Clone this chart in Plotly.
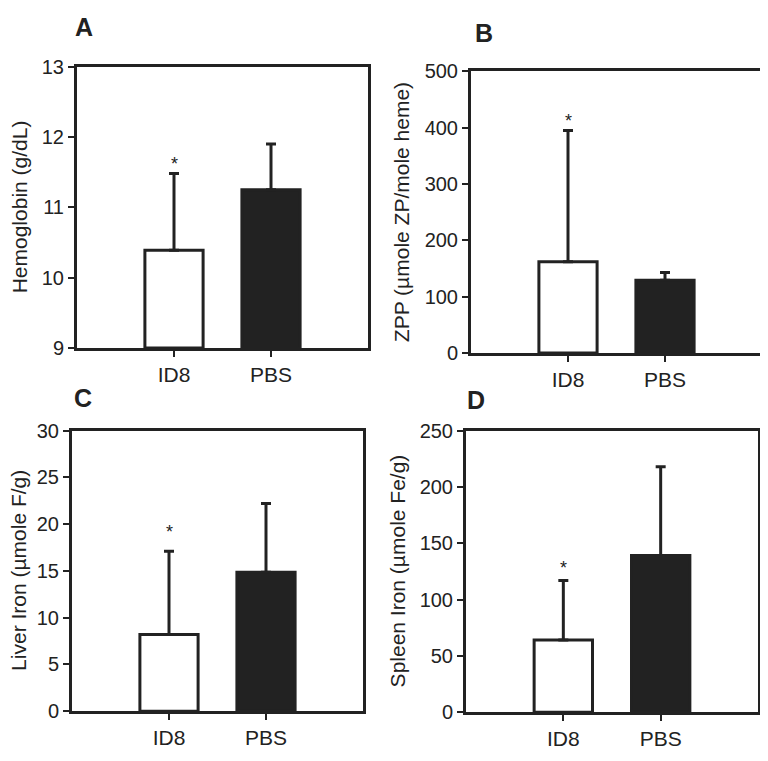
import plotly.graph_objects as go
from plotly.subplots import make_subplots

# =====================================================
# DATA
# =====================================================

categories = ["ID8", "PBS"]

hemoglobin = [10.39, 11.25]
hemoglobin_err = [1.09, 0.65]

zpp = [162, 129]
zpp_err = [233, 14]

liver_iron = [8.2, 14.85]
liver_iron_err = [8.9, 7.35]

spleen_iron = [64, 139]
spleen_iron_err = [53, 79]

# asterisk marks (ID8 only), in data units
star_y = [11.62, 412, 19.2, 128]

# =====================================================
# STYLE
# =====================================================

FONT = "Liberation Sans, Arial, sans-serif"
INK = "#222222"

# the page body keeps its default 8px margin, so the figure is drawn
# 8px in from the window corner; screen pixels below are shifted back
PAD = 8
W, H = 768 - PAD, 761 - PAD


def px(x):
    return (x - PAD) / W


def py(y):
    return 1 - (y - PAD) / H


panels = [
    dict(letter="A", values=hemoglobin, err=hemoglobin_err, base=9,
         yrange=[9, 13], dtick=1, title="Hemoglobin (g/dL)",
         box=(77, 368, 57, 347), letter_xy=(84, 16), title_x=19),
    dict(letter="B", values=zpp, err=zpp_err, base=0,
         yrange=[0, 500], dtick=100, title="ZPP (\u00b5mole ZP/mole heme)",
         box=(471, 762, 62, 352), letter_xy=(484, 22), title_x=401),
    dict(letter="C", values=liver_iron, err=liver_iron_err, base=0,
         yrange=[0, 30], dtick=5, title="Liver Iron (\u00b5mole F/g)",
         box=(72, 363, 432, 721), letter_xy=(83, 398), title_x=19),
    dict(letter="D", values=spleen_iron, err=spleen_iron_err, base=0,
         yrange=[0, 250], dtick=50, title="Spleen Iron (\u00b5mole Fe/g)",
         box=(466, 758, 432, 722), letter_xy=(476, 400), title_x=397),
]

fig = make_subplots(rows=2, cols=2)

for i, p in enumerate(panels):
    row, col = i // 2 + 1, i % 2 + 1
    fig.add_trace(
        go.Bar(
            x=categories,
            y=[v - p["base"] for v in p["values"]],
            base=p["base"],
            width=0.6,
            marker=dict(color=["white", INK],
                        line=dict(color=INK, width=3)),
            error_y=dict(type="data", symmetric=False,
                         array=p["err"], arrayminus=[0, 0],
                         color=INK, thickness=3, width=5),
            showlegend=False,
        ),
        row=row, col=col,
    )

    x0, x1, y0, y1 = p["box"]
    n = "" if i == 0 else str(i + 1)
    fig.layout["xaxis" + n].update(
        domain=[px(x0), px(x1)],
        range=[-1, 2],
        showline=True, mirror=True, linewidth=3, linecolor=INK,
        ticks="outside", ticklen=6, tickwidth=2, tickcolor=INK,
        tickfont=dict(family=FONT, size=21, color=INK),
        showgrid=False, zeroline=False,
    )
    fig.layout["yaxis" + n].update(
        domain=[py(y1), py(y0)],
        range=p["yrange"], dtick=p["dtick"],
        showline=True, mirror=True, linewidth=3, linecolor=INK,
        ticks="outside", ticklen=6, tickwidth=2, tickcolor=INK,
        tickfont=dict(family=FONT, size=20, color=INK),
        showgrid=False, zeroline=False,
    )

    # panel letter
    fig.add_annotation(
        x=px(p["letter_xy"][0]), y=py(p["letter_xy"][1]),
        xref="paper", yref="paper", text="<b>" + p["letter"] + "</b>",
        showarrow=False, xanchor="center", yanchor="middle",
        font=dict(family=FONT, size=25, color=INK),
    )

    # y axis title
    fig.add_annotation(
        x=px(p["title_x"]), y=py((y0 + y1) / 2),
        xref="paper", yref="paper", text=p["title"], textangle=-90,
        showarrow=False, xanchor="center", yanchor="middle",
        font=dict(family=FONT, size=21, color=INK),
    )

    # significance asterisk
    fig.add_annotation(
        x=categories[0], y=star_y[i],
        xref="x" + n, yref="y" + n, text="*",
        showarrow=False, xanchor="center", yanchor="middle",
        font=dict(family=FONT, size=18, color=INK),
    )

fig.update_layout(
    width=W, height=H,
    margin=dict(l=0, r=0, t=0, b=0),
    plot_bgcolor="white", paper_bgcolor="white",
    font=dict(family=FONT, color=INK),
)

fig.write_html("out.html")
